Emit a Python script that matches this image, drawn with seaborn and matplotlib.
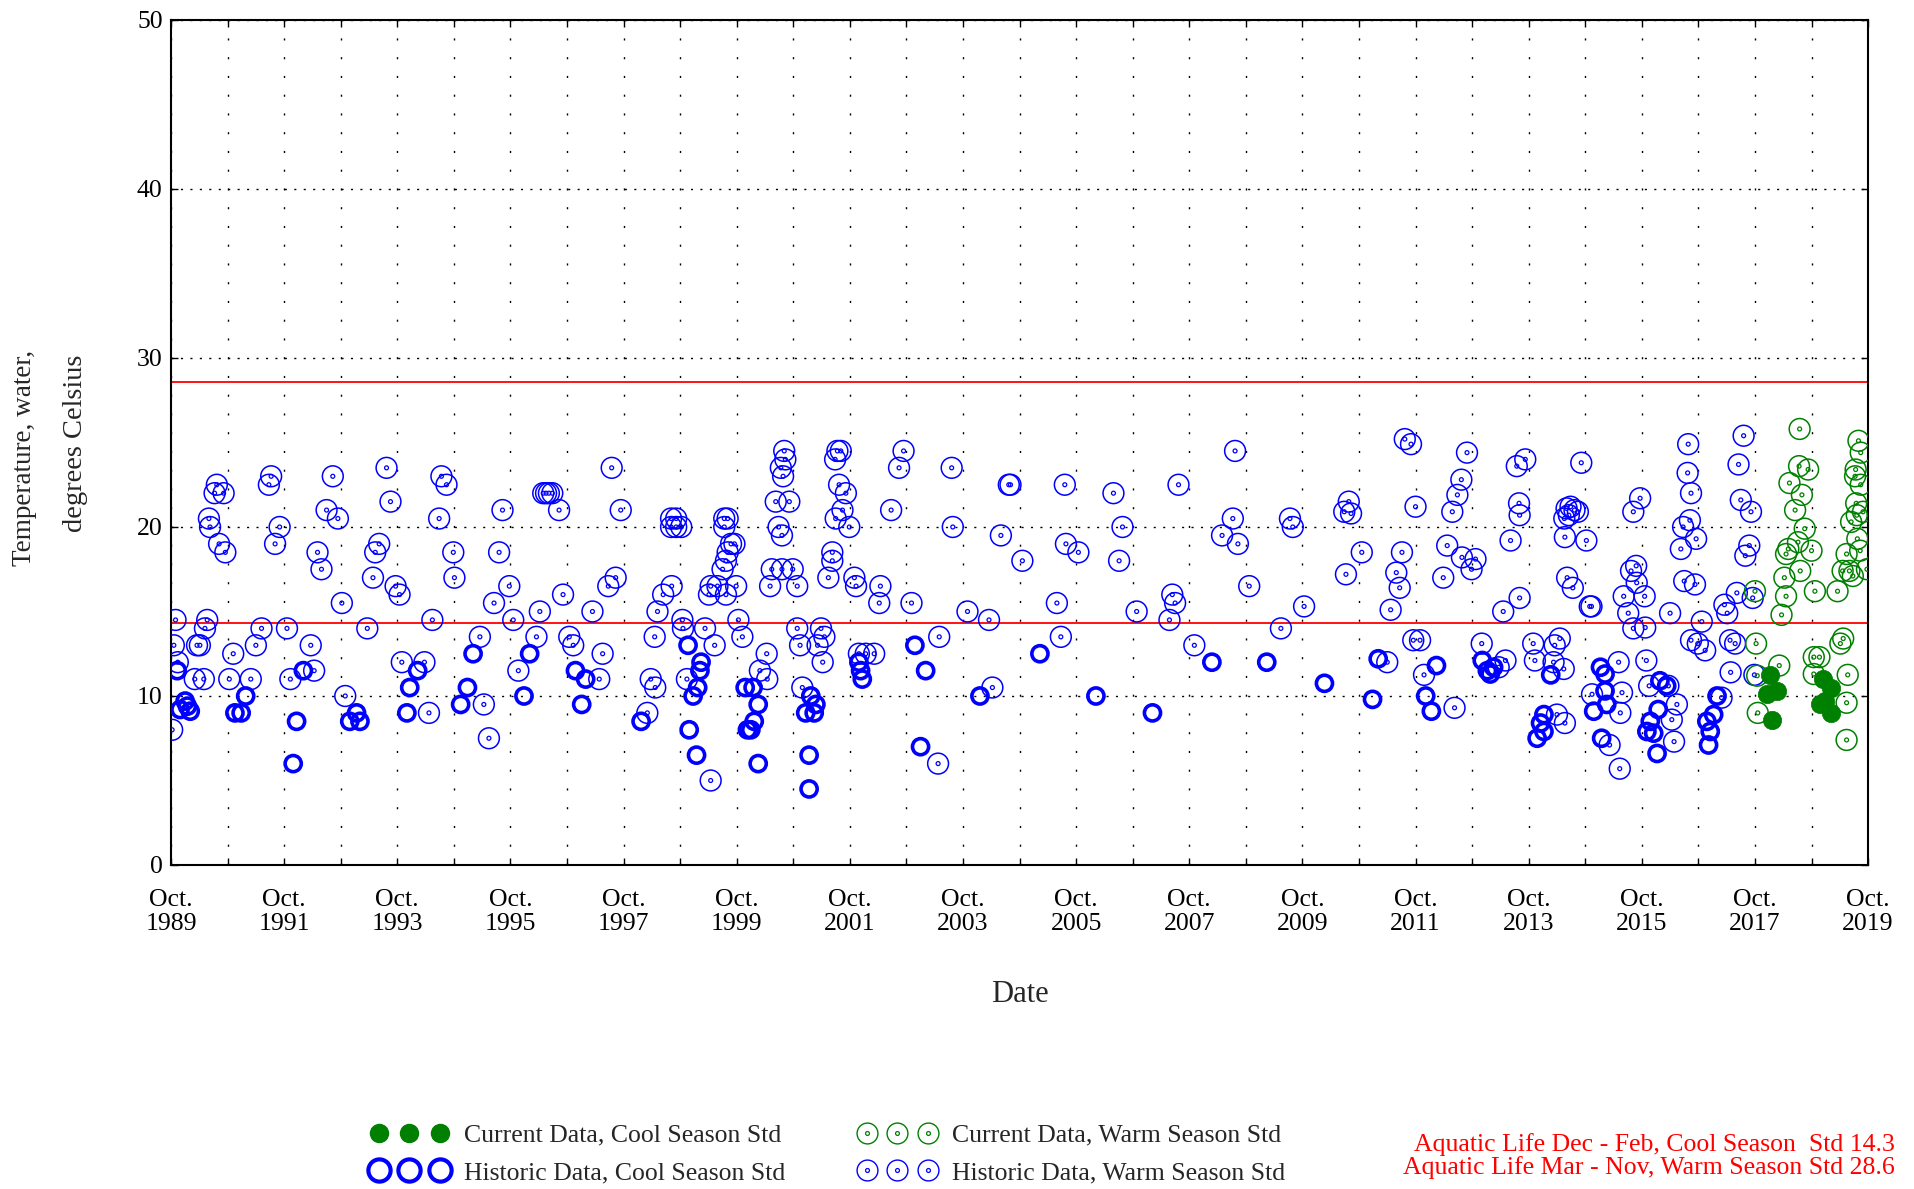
import numpy as np
import pandas as pd
import matplotlib
matplotlib.use("Agg")
import matplotlib.pyplot as plt
from matplotlib.lines import Line2D
import seaborn as sns

# Sample dates as decimal years, water temperature in degrees C
hist_warm_year = [
    1990.56, 1990.52, 1990.68, 1990.42, 1990.44, 1990.60, 1990.71, 1991.52, 1991.48, 1991.67,
    1991.59, 1992.61, 1992.50, 1992.70, 1992.34, 1992.41, 1993.56, 1993.63, 1993.43, 1993.36,
    1993.32, 1993.72, 1993.79, 1992.77, 1989.83, 1990.39, 1990.35, 1991.35, 1991.80, 1993.22,
    1989.80, 1990.21, 1990.26, 1990.85, 1991.25, 1992.22, 1993.83, 1989.87, 1990.17, 1990.33,
    1990.78, 1991.16, 1991.86, 1992.28, 1992.83, 1989.77,
    1994.53, 1994.62, 1994.49, 1995.61, 1994.74, 1995.55, 1994.76, 1995.73, 1995.46, 1994.37,
    1995.80, 1995.21, 1994.23, 1995.89, 1995.28, 1994.31, 1995.37, 1996.33, 1996.38, 1996.43,
    1996.49, 1996.61, 1996.27, 1996.68, 1996.21, 1996.79, 1996.86, 1997.20, 1997.38, 1997.32,
    1997.54, 1997.70, 1997.61, 1997.48,
    1998.59, 1998.68, 1998.59, 1998.68, 1998.77, 1999.53, 1999.59, 1999.53, 1999.65, 1999.71,
    1999.59, 1999.56, 1999.50, 1999.29, 1999.41, 1999.56, 1999.26, 1999.74, 1998.60, 1998.45,
    1998.35, 1998.79, 1998.80, 1999.19, 1999.36, 1999.78, 1999.85, 1998.30, 1998.23, 1998.31,
    1998.87, 1998.17, 1999.29, 2000.28, 2000.16, 2000.29, 2000.59, 2000.61, 2000.53, 2000.57,
    2000.44, 2000.68, 2000.49, 2000.55, 2000.37, 2000.55, 2000.74, 2000.34, 2000.82, 2000.82,
    2000.87, 2001.24, 2001.30, 2001.18, 2001.27, 2000.91, 2001.53, 2001.59, 2001.49, 2001.56,
    2001.68, 2001.62, 2001.50, 2001.74, 2001.44, 2001.44, 2001.37, 2001.83, 2001.86, 2002.29,
    2002.27, 2001.91, 2002.03, 2002.18,
    2002.70, 2002.62, 2002.48, 2003.55, 2003.57, 2002.84, 2003.33, 2003.31, 2004.56, 2004.59,
    2004.42, 2004.80, 2003.83, 2004.21, 2004.27, 2005.55, 2005.57, 2005.79, 2005.41, 2005.48,
    2006.41, 2006.57, 2006.51,
    2006.82, 2007.56, 2007.45, 2007.50, 2007.40, 2007.84, 2008.56, 2008.52, 2008.33, 2008.61,
    2008.81, 2009.37, 2009.78, 2009.53, 2009.58, 2010.52, 2010.80, 2010.57, 2010.49, 2010.61,
    2011.25, 2011.56, 2011.67, 2011.75, 2011.51, 2011.41, 2011.47, 2011.31, 2011.71, 2011.83,
    2011.90, 2012.44, 2012.66, 2012.56, 2012.49, 2012.40, 2012.31, 2012.57, 2012.81, 2012.74,
    2012.24, 2012.92, 2013.34, 2013.22, 2013.69, 2013.54, 2013.58, 2013.59, 2013.43, 2013.59,
    2013.30, 2013.83, 2013.86, 2014.30, 2014.21, 2014.19, 2014.37, 2014.39, 2014.25, 2014.68,
    2014.42, 2014.49, 2014.56, 2014.62, 2014.46, 2014.38, 2014.39, 2014.77, 2014.43, 2014.53,
    2014.83, 2014.86, 2014.87,
    2015.72, 2015.60, 2015.65, 2015.56, 2015.66, 2015.43, 2015.80, 2015.51, 2015.60, 2015.81,
    2015.34, 2015.40, 2015.37, 2015.18, 2015.36, 2015.83, 2015.88, 2016.25, 2016.57, 2016.56,
    2016.62, 2016.60, 2016.48, 2016.71, 2016.44, 2016.50, 2016.69, 2016.81, 2016.62, 2016.74,
    2016.87, 2017.31, 2017.40, 2017.32, 2016.22, 2016.37, 2016.28, 2016.32, 2017.55, 2017.46,
    2017.50, 2017.68, 2017.65, 2017.58, 2017.43, 2017.21, 2017.26, 2017.71, 2017.74, 2017.16,
]
hist_warm_temp = [
    22.5, 22.0, 22.0, 20.5, 20.0, 19.0, 18.5, 23.0, 22.5, 20.0,
    19.0, 23.0, 21.0, 20.5, 18.5, 17.5, 23.5, 21.5, 19.0, 18.5,
    17.0, 16.5, 16.0, 15.5, 14.5, 14.5, 14.0, 14.0, 14.0, 14.0,
    13.0, 13.0, 13.0, 12.5, 13.0, 13.0, 12.0, 12.0, 11.0, 11.0,
    11.0, 11.0, 11.0, 11.5, 10.0, 8.0,
    23.0, 22.5, 20.5, 21.0, 18.5, 18.5, 17.0, 16.5, 15.5, 14.5,
    14.5, 13.5, 12.0, 11.5, 9.5, 9.0, 7.5, 22.0, 22.0, 22.0,
    22.0, 21.0, 15.0, 16.0, 13.5, 13.5, 13.0, 15.0, 12.5, 11.0,
    23.5, 21.0, 17.0, 16.5,
    20.5, 20.5, 20.0, 20.0, 20.0, 20.5, 20.5, 20.0, 19.0, 19.0,
    18.5, 18.0, 17.5, 16.5, 16.5, 16.0, 16.0, 16.5, 16.5, 16.0,
    15.0, 14.5, 14.0, 14.0, 13.0, 14.5, 13.5, 13.5, 11.0, 10.5,
    11.0, 9.0, 5.0, 12.5, 11.5, 11.0, 24.5, 24.0, 23.5, 23.0,
    21.5, 21.5, 20.0, 19.5, 17.5, 17.5, 17.5, 16.5, 16.5, 14.0,
    13.0, 14.0, 13.5, 13.0, 12.0, 10.5, 24.5, 24.5, 24.0, 22.5,
    22.0, 21.0, 20.5, 20.0, 18.5, 18.0, 17.0, 17.0, 16.5, 16.5,
    15.5, 12.5, 12.5, 12.5,
    24.5, 23.5, 21.0, 23.5, 20.0, 15.5, 13.5, 6.0, 22.5, 22.5,
    19.5, 18.0, 15.0, 14.5, 10.5, 22.5, 19.0, 18.5, 15.5, 13.5,
    22.0, 20.0, 18.0,
    15.0, 22.5, 16.0, 15.5, 14.5, 13.0, 24.5, 20.5, 19.5, 19.0,
    16.5, 14.0, 15.3, 20.5, 20.0, 17.2, 18.5, 21.5, 20.9, 20.8,
    12.0, 25.2, 24.9, 21.2, 18.5, 17.3, 16.4, 15.1, 13.3, 13.3,
    11.25, 9.3, 24.4, 22.8, 21.9, 20.9, 18.9, 18.2, 18.1, 17.5,
    17.0, 13.1, 12.1, 11.7, 24.0, 23.6, 21.4, 20.7, 19.2, 15.8,
    15.0, 13.1, 12.1, 13.4, 13.0, 12.0, 11.6, 8.4, 8.9, 23.8,
    21.1, 21.2, 21.0, 20.9, 20.7, 20.5, 19.4, 19.2, 17.0, 16.4,
    15.3, 15.3, 10.1,
    21.7, 20.9, 17.7, 17.4, 16.7, 15.9, 15.9, 14.9, 14.0, 14.05,
    12.0, 10.2, 9.0, 7.1, 5.7, 12.1, 10.6, 14.9, 24.9, 23.2,
    22.0, 20.4, 20.0, 19.3, 18.7, 16.8, 16.6, 14.4, 13.3, 13.1,
    12.7, 13.3, 13.1, 11.4, 10.6, 9.5, 8.6, 7.3, 25.4, 23.7,
    21.6, 20.9, 18.9, 18.3, 16.1, 15.4, 14.9, 15.8, 11.25, 9.9,
]

hist_cool_year = [
    1989.86, 1990.00, 1989.91, 1990.09, 1990.04, 1991.07, 1990.88, 1990.99, 1991.97, 1991.91,
    1992.09, 1993.03, 1992.91, 1993.09, 1993.97, 1993.92, 1995.09, 1994.11, 1994.99, 1994.87,
    1996.09, 1995.99, 1996.90, 1997.08, 1997.01, 1998.06, 1998.89, 1999.12, 1999.10, 1999.06,
    1998.98, 1998.91, 1999.04, 1999.90, 2000.04, 2000.13, 2000.06, 1999.94, 2000.00, 2000.13,
    2001.06, 2001.15, 2000.97, 2001.12, 2001.03, 2001.03, 2001.91, 2001.94, 2001.97, 2002.90,
    2003.09, 2003.00, 2004.05, 2005.11, 2006.10, 2007.10, 2008.15, 2009.12, 2010.14, 2010.99,
    2011.09, 2012.12, 2011.93, 2012.03, 2012.93, 2013.02, 2013.13, 2013.07, 2014.14, 2014.02,
    2013.96, 2014.02, 2013.90, 2014.90, 2015.02, 2015.10, 2015.10, 2015.13, 2015.04, 2016.07,
    2016.19, 2016.04, 2015.90, 2015.96, 2016.02, 2015.84, 2017.08, 2017.02, 2016.90, 2016.96,
    2016.93,
]
hist_cool_temp = [
    11.5, 9.7, 9.2, 9.1, 9.4, 10.0, 9.0, 9.0, 8.5, 6.0,
    11.5, 9.0, 8.5, 8.5, 10.5, 9.0, 12.5, 11.5, 10.5, 9.5,
    12.5, 10.0, 11.5, 11.0, 9.5, 8.5, 13.0, 12.0, 11.5, 10.5,
    10.0, 8.0, 6.5, 10.5, 10.5, 9.5, 8.5, 8.0, 8.0, 6.0,
    10.0, 9.5, 9.0, 9.0, 6.5, 4.5, 12.0, 11.5, 11.0, 13.0,
    11.5, 7.0, 10.0, 12.5, 10.0, 9.0, 12.0, 12.0, 10.75, 9.8,
    12.2, 11.8, 10.0, 9.1, 12.1, 11.5, 11.7, 11.3, 11.25, 8.9,
    8.4, 7.9, 7.5, 9.1, 11.7, 11.3, 10.3, 9.5, 7.5, 10.9,
    10.6, 9.2, 8.5, 7.8, 6.6, 7.9, 10.0, 8.9, 8.5, 7.9,
    7.1,
]

cur_warm_year = [
    2017.75, 2018.54, 2018.53, 2018.69, 2018.36, 2018.58, 2018.46, 2018.63, 2018.51, 2018.34,
    2018.30, 2018.75, 2018.55, 2018.27, 2018.30, 2018.22, 2018.81, 2019.21, 2019.58, 2019.62,
    2019.53, 2019.52, 2019.62, 2019.54, 2019.55, 2019.45, 2019.56, 2019.37, 2019.30, 2019.42,
    2019.48, 2019.73, 2017.77, 2018.18, 2017.79, 2017.80, 2018.79, 2018.89, 2019.31, 2019.26,
    2019.39, 2019.37, 2019.37, 2018.79, 2019.66, 2019.61,
]
cur_warm_temp = [
    16.2, 25.8, 23.6, 23.4, 22.6, 21.9, 21.0, 19.9, 19.1, 18.7,
    18.4, 18.6, 17.4, 17.0, 15.9, 14.8, 16.2, 16.2, 25.1, 24.4,
    23.4, 23.0, 22.5, 21.4, 20.7, 20.3, 19.3, 18.4, 17.4, 17.4,
    17.1, 17.5, 13.1, 11.8, 11.2, 9.0, 12.3, 12.3, 13.4, 13.1,
    11.25, 9.6, 7.4, 11.3, 20.9, 18.6,
]

cur_cool_year = [2018.02, 2018.14, 2017.96, 2018.06, 2018.96, 2019.09, 2018.90, 2019.09, 2018.99]
cur_cool_temp = [11.25, 10.3, 10.1, 8.6, 11.0, 10.5, 9.5, 9.0, 9.7]

cool_std = 14.3
warm_std = 28.6

tick_years = [1989, 1991, 1993, 1995, 1997, 1999, 2001, 2003, 2005, 2007, 2009, 2011, 2013, 2015, 2017, 2019]

hist_warm = pd.DataFrame({"year": hist_warm_year, "temp": hist_warm_temp})
hist_cool = pd.DataFrame({"year": hist_cool_year, "temp": hist_cool_temp})
cur_warm = pd.DataFrame({"year": cur_warm_year, "temp": cur_warm_temp})
cur_cool = pd.DataFrame({"year": cur_cool_year, "temp": cur_cool_temp})

sns.set_style("ticks")
plt.rcParams['font.family'] = ['Liberation Serif', 'DejaVu Serif']

BLUE = '#0000FF'
GREEN = '#008000'
RED = '#FF0000'

fig = plt.figure(figsize=(19.15, 11.89), dpi=100)
ax = fig.add_axes([0.0893, 0.2725, 0.8862, 0.7107])

# standards
ax.axhline(warm_std, color=RED, lw=1.3, zorder=2)
ax.axhline(cool_std, color=RED, lw=1.3, zorder=2)


def warm_rings(df, color):
    sns.scatterplot(data=df, x="year", y="temp", ax=ax, marker='o', s=225,
                    facecolor='none', edgecolor=color, linewidth=1.1, legend=False, zorder=3)
    sns.scatterplot(data=df, x="year", y="temp", ax=ax, marker='o', s=8,
                    facecolor='none', edgecolor=color, linewidth=0.9, legend=False, zorder=3)


warm_rings(hist_warm, BLUE)
sns.scatterplot(data=hist_cool, x="year", y="temp", ax=ax, marker='o', s=135,
                facecolor='none', edgecolor=BLUE, linewidth=2.6, legend=False, zorder=3)
warm_rings(cur_warm, GREEN)
sns.scatterplot(data=cur_cool, x="year", y="temp", ax=ax, marker='o', s=175,
                color=GREEN, edgecolor=GREEN, linewidth=0.5, legend=False, zorder=4)

# axes
ax.set_xlim(1989.75, 2019.75)
ax.set_ylim(0, 50)
ax.set_xticks([y + 0.75 for y in tick_years])
ax.set_xticklabels([f"Oct.\n{y}" for y in tick_years], linespacing=1.15)
ax.set_xticks(np.arange(1989.75, 2019.8, 1.0), minor=True)
ax.set_yticks([0, 10, 20, 30, 40, 50])
ax.tick_params(axis='both', which='both', direction='in', top=True, right=True,
               length=5, width=1, color='black', labelsize=18.5, labelcolor='black')
ax.tick_params(axis='x', pad=17)
ax.tick_params(axis='y', pad=6)
ax.xaxis.grid(True, which='both', color='black', linewidth=1.0, linestyle=(0, (1.5, 12)))
ax.yaxis.grid(True, which='major', color='black', linewidth=1.0, linestyle=(0, (1.5, 5.3)))
for sp in ax.spines.values():
    sp.set_visible(True)
    sp.set_color('black')
    sp.set_linewidth(1.5)

ax.set_xlabel("Date", fontsize=22, labelpad=32)
ax.set_ylabel("")
fig.text(0.0127, 0.615, "Temperature, water,", rotation=90, ha='center', va='center', fontsize=19.5)
fig.text(0.0395, 0.627, "degrees Celsius", rotation=90, ha='center', va='center', fontsize=20.5)

# legend
h_cur_cool = Line2D([], [], ls='none', marker='o', ms=13, mfc=GREEN, mec=GREEN)
h_his_cool = Line2D([], [], ls='none', marker='o', ms=16, mfc='none', mec=BLUE, mew=3.0)


def warm_handle(c):
    return (Line2D([], [], ls='none', marker='o', ms=15, mfc='none', mec=c, mew=1.0),
            Line2D([], [], ls='none', marker='o', ms=2.8, mfc='none', mec=c, mew=0.9))


leg_kw = dict(loc='center left', numpoints=3, handlelength=2.97, handletextpad=0.65,
              labelspacing=0.56, frameon=False, fontsize=18.5, borderpad=0, borderaxespad=0)
fig.legend([h_cur_cool, h_his_cool],
           ["Current Data, Cool Season Std", "Historic Data, Cool Season Std"],
           bbox_to_anchor=(0.1937, 0.0294), **leg_kw)
fig.legend([warm_handle(GREEN), warm_handle(BLUE)],
           ["Current Data, Warm Season Std", "Historic Data, Warm Season Std"],
           bbox_to_anchor=(0.4487, 0.0294), **leg_kw)

fig.text(0.9896, 0.0378, "Aquatic Life Dec - Feb, Cool Season  Std 14.3",
         ha='right', va='center', color=RED, fontsize=18.5)
fig.text(0.9896, 0.0177, "Aquatic Life Mar - Nov, Warm Season Std 28.6",
         ha='right', va='center', color=RED, fontsize=18.5)

fig.savefig("out.png", dpi=100)
